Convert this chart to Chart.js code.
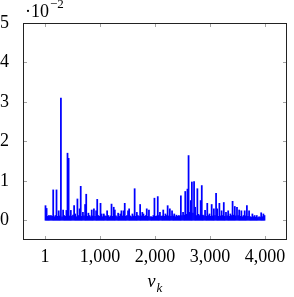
<!DOCTYPE html>
<html><head><meta charset="utf-8">
<script src="https://cdn.jsdelivr.net/npm/chart.js@4"></script>
<style>html,body{margin:0;padding:0;background:#fff}</style>
</head><body>
<canvas id="c" width="294" height="297"></canvas>
<script>
// bin layout of the trace (bin centre of the first bin and bin width, in v_k units)
const binStart = 10;
const binWidth = 20;
// per-bin maximum of the plotted curve (real units, axis shows ·10^-2)
const values = [
0.0037,0.0030,0.0010,0.0012,0.0011,0.0012,0.0010,0.0077,0.0009,0.0012,
0.0077,0.0010,0.0024,0.0011,0.0310,0.0009,0.0026,0.0012,0.0010,0.0025,
0.0170,0.0157,0.0011,0.0025,0.0010,0.0013,0.0037,0.0016,0.0009,0.0054,
0.0012,0.0029,0.0086,0.0010,0.0020,0.0011,0.0040,0.0066,0.0010,0.0018,
0.0012,0.0009,0.0026,0.0011,0.0029,0.0010,0.0024,0.0053,0.0012,0.0010,
0.0043,0.0016,0.0009,0.0016,0.0011,0.0010,0.0024,0.0012,0.0008,0.0011,
0.0041,0.0010,0.0033,0.0026,0.0011,0.0009,0.0018,0.0010,0.0016,0.0024,
0.0011,0.0024,0.0043,0.0010,0.0012,0.0024,0.0029,0.0011,0.0009,0.0016,
0.0011,0.0080,0.0010,0.0020,0.0012,0.0010,0.0040,0.0011,0.0020,0.0016,
0.0010,0.0012,0.0029,0.0010,0.0026,0.0009,0.0009,0.0008,0.0012,0.0056,
0.0010,0.0011,0.0060,0.0012,0.0020,0.0010,0.0011,0.0026,0.0010,0.0016,
0.0012,0.0037,0.0011,0.0029,0.0010,0.0024,0.0011,0.0016,0.0009,0.0013,
0.0010,0.0012,0.0011,0.0062,0.0012,0.0020,0.0013,0.0073,0.0015,0.0079,
0.0164,0.0020,0.0050,0.0097,0.0018,0.0098,0.0033,0.0012,0.0080,0.0015,
0.0012,0.0050,0.0088,0.0013,0.0011,0.0025,0.0010,0.0043,0.0012,0.0016,
0.0010,0.0040,0.0011,0.0029,0.0012,0.0068,0.0029,0.0010,0.0043,0.0011,
0.0024,0.0012,0.0045,0.0010,0.0020,0.0011,0.0024,0.0010,0.0016,0.0012,
0.0048,0.0013,0.0035,0.0011,0.0033,0.0012,0.0026,0.0010,0.0024,0.0009,
0.0012,0.0024,0.0011,0.0037,0.0010,0.0024,0.0009,0.0008,0.0016,0.0009,
0.0012,0.0008,0.0012,0.0007,0.0009,0.0008,0.0019,0.0009,0.0016,0.0012
];
const xTicks = [1, 1000, 2000, 3000, 4000];
const xTickLabels = ["1", "1,000", "2,000", "3,000", "4,000"];
const yTicks = [0, 0.01, 0.02, 0.03, 0.04, 0.05];
const yTickLabels = ["0", "1", "2", "3", "4", "5"];
const scaleLabel = ["\u00B710", "\u22122"];
const xTitle = ["v", "k"];

const SERIF = "'Liberation Serif', 'DejaVu Serif', serif";

const frame = {
  id: 'frame',
  afterDraw(chart) {
    const ctx = chart.ctx, a = chart.chartArea;
    const xs = chart.scales.x, ys = chart.scales.y;
    ctx.save();
    // inward ticks
    ctx.strokeStyle = '#8a8a8a';
    ctx.lineWidth = 0.8;
    ctx.beginPath();
    xTicks.forEach(v => {
      const p = Math.round(xs.getPixelForValue(v)) + 0.5;
      ctx.moveTo(p, a.bottom); ctx.lineTo(p, a.bottom - 4);
      ctx.moveTo(p, a.top); ctx.lineTo(p, a.top + 4);
    });
    yTicks.forEach(v => {
      const p = Math.round(ys.getPixelForValue(v)) + 0.5;
      ctx.moveTo(a.left, p); ctx.lineTo(a.left + 4, p);
      ctx.moveTo(a.right, p); ctx.lineTo(a.right - 4, p);
    });
    ctx.stroke();
    // box
    ctx.strokeStyle = '#222';
    ctx.lineWidth = 1;
    ctx.strokeRect(Math.round(a.left) + 0.5, Math.round(a.top) + 0.5,
                   Math.round(a.right - a.left) - 1, Math.round(a.bottom - a.top) - 1);
    // scale label ·10^-2
    ctx.fillStyle = '#000';
    ctx.textBaseline = 'alphabetic';
    ctx.textAlign = 'left';
    ctx.font = '18px ' + SERIF;
    ctx.fillText(scaleLabel[0], 25, 17);
    const w = ctx.measureText(scaleLabel[0]).width;
    ctx.font = '13px ' + SERIF;
    ctx.fillText(scaleLabel[1], 25 + w + 1, 8);
    // x title v_k
    ctx.font = 'italic 18px ' + SERIF;
    const cx = (a.left + a.right) / 2;
    const vw = ctx.measureText(xTitle[0]).width;
    ctx.font = 'italic 13px ' + SERIF;
    const kw = ctx.measureText(xTitle[1]).width;
    const sx = cx - (vw + kw + 1) / 2;
    ctx.font = 'italic 18px ' + SERIF;
    ctx.fillText(xTitle[0], sx, 287);
    ctx.font = 'italic 13px ' + SERIF;
    ctx.fillText(xTitle[1], sx + vw + 1, 292);
    ctx.restore();
  }
};

new Chart(document.getElementById('c'), {
  type: 'bar',
  data: {
    datasets: [{
      data: values.map((v, i) => ({ x: binStart + i * binWidth, y: v })),
      backgroundColor: 'rgb(0,0,255)',
      borderWidth: 0,
      barPercentage: 1,
      categoryPercentage: 1
    }]
  },
  options: {
    responsive: false,
    devicePixelRatio: 1,
    animation: false,
    events: [],
    layout: { padding: { left: 0, top: 23, right: 7, bottom: 0 } },
    plugins: { legend: { display: false }, tooltip: { enabled: false }, title: { display: false } },
    scales: {
      x: {
        type: 'linear',
        min: -399, max: 4399,
        offset: false,
        afterBuildTicks: s => { s.ticks = xTicks.map(v => ({ value: v })); },
        afterFit: s => { s.height = 57; },
        ticks: {
          autoSkip: false, maxRotation: 0, minRotation: 0,
          padding: -2, color: '#000',
          font: { family: SERIF, size: 18 },
          callback: (v, i) => xTickLabels[i]
        },
        grid: { display: false },
        border: { display: false }
      },
      y: {
        type: 'linear',
        min: -0.005, max: 0.05,
        afterBuildTicks: s => { s.ticks = yTicks.map(v => ({ value: v })); },
        afterFit: s => { s.width = 23; },
        ticks: {
          padding: 6, color: '#000',
          font: { family: SERIF, size: 18 },
          callback: (v, i) => yTickLabels[i]
        },
        grid: { display: false },
        border: { display: false }
      }
    }
  },
  plugins: [frame]
});
</script>
</body></html>
